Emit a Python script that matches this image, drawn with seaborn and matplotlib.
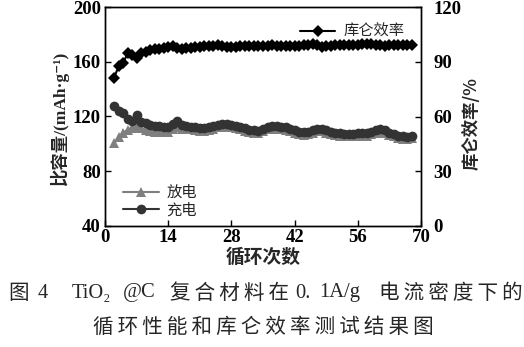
import matplotlib
matplotlib.use("Agg")
import matplotlib.pyplot as plt
import seaborn as sns
import pandas as pd
from matplotlib.lines import Line2D

cycles = list(range(2, 69))
charge = [127.4, 124.0, 122.3, 118.0, 116.7, 120.8, 116.3, 115.0, 113.8, 113.1,
          113.0, 112.4, 112.6, 114.8, 117.0, 113.8, 112.9, 112.6, 112.0, 111.4,
          111.4, 112.0, 112.9, 113.8, 114.3, 114.6, 113.8, 113.0, 112.4, 111.4,
          110.5, 110.0, 109.7, 111.0, 112.4, 112.9, 113.1, 112.6, 112.0, 111.0,
          110.0, 109.0, 108.5, 109.0, 110.0, 111.0, 111.2, 110.0, 108.8, 108.0,
          107.6, 107.1, 107.1, 107.3, 107.6, 107.6, 107.6, 108.8, 110.0, 110.7,
          110.0, 108.3, 107.1, 106.1, 105.4, 104.9, 105.9]
discharge = [100.3, 104.7, 108.3, 110.2, 111.9, 112.4, 111.4, 110.2, 109.5, 109.0,
             108.8, 108.8, 109.0, 110.7, 112.4, 110.7, 111.2, 110.9, 110.3, 109.7,
             109.7, 110.3, 111.2, 112.1, 112.6, 112.9, 112.1, 111.3, 110.7, 109.7,
             108.8, 108.3, 108.0, 109.3, 110.7, 111.2, 111.4, 110.9, 110.3, 109.3,
             108.3, 107.3, 106.8, 107.3, 108.3, 109.3, 109.5, 108.3, 107.1, 106.3,
             105.9, 105.4, 105.4, 105.6, 105.9, 105.9, 105.9, 107.1, 108.3, 109.0,
             108.3, 106.6, 105.4, 104.4, 103.7, 103.2, 104.2]
efficiency = [81.1, 87.4, 89.2, 94.6, 93.5, 91.9, 94.6, 95.5, 96.2, 96.8,
              97.2, 97.6, 98.2, 98.5, 97.4, 97.0, 97.6, 97.8, 98.0, 98.2,
              98.4, 98.6, 98.8, 99.0, 98.8, 98.2, 98.0, 98.2, 98.4, 98.5,
              98.6, 98.7, 98.8, 98.6, 98.8, 99.2, 98.6, 98.4, 98.6, 98.7,
              98.8, 98.9, 99.0, 99.3, 99.5, 99.0, 98.2, 98.6, 98.8, 99.0,
              99.0, 99.1, 99.2, 99.2, 99.4, 99.6, 99.8, 99.6, 99.2, 99.0,
              98.9, 99.0, 99.1, 99.2, 99.2, 99.2, 99.3]

xticks = [0, 14, 28, 42, 56, 70]
yticks_left = [40, 80, 120, 160, 200]
yticks_right = [0, 30, 60, 90, 120]

df = pd.DataFrame({"cycle": cycles, "charge": charge, "discharge": discharge,
                   "eff": efficiency})

sns.set_theme(style="white")
serif = ["Liberation Serif", "Noto Sans CJK SC", "DejaVu Sans"]
cjk = ["Noto Sans CJK SC", "DejaVu Sans"]
plt.rcParams["font.family"] = serif

W, H = 524, 347
fig = plt.figure(figsize=(5.24, 3.47), dpi=100)
ax_top, ax_bot = 7, 226
ax = fig.add_axes([105 / W, 1 - ax_bot / H, 316 / W, (ax_bot - ax_top) / H])
ax2 = ax.twinx()

c_dis = "#7f7f7f"
c_chg = "#333333"
sns.lineplot(data=df, x="cycle", y="discharge", ax=ax, color=c_dis, marker="^",
             markersize=7, markeredgewidth=0, linewidth=1.5)
sns.lineplot(data=df, x="cycle", y="charge", ax=ax, color=c_chg, marker="o",
             markersize=7, markeredgewidth=0, linewidth=1.5)
sns.lineplot(data=df, x="cycle", y="eff", ax=ax2, color="black", marker="D",
             markersize=6.3, markeredgewidth=0, linewidth=1.5)

ax.set_xlim(0, 70)
ax.set_ylim(40, 200)
ax2.set_ylim(0, 120)
ax.set_xticks(xticks)
ax.set_yticks(yticks_left)
ax2.set_yticks(yticks_right)
ax.set_xticklabels([str(v) for v in xticks])
ax.set_yticklabels([str(v) for v in yticks_left])
ax2.set_yticklabels([str(v) for v in yticks_right])

for a in (ax, ax2):
    for s in a.spines.values():
        s.set_color("black")
        s.set_linewidth(1.0)
    a.tick_params(direction="in", length=4, width=1.0, colors="black",
                  labelsize=13.5, pad=2)
    a.grid(False)
    for lab in a.get_xticklabels() + a.get_yticklabels():
        lab.set_fontweight("bold")
ax.tick_params(axis="x", top=False, bottom=True, pad=2)
ax.tick_params(axis="y", left=True, right=False, pad=3)
ax2.tick_params(axis="y", right=True, left=False, pad=9)
ax.set_xlabel("")
ax.set_ylabel("")
ax2.set_ylabel("")

fig.text(0.113, 0.658, "比容量/(mAh·g⁻¹)", rotation=90, ha="center", va="center",
         fontsize=12.5, fontweight="bold", family=serif)
fig.text(0.900, 0.644, "库仑效率/%", rotation=90, ha="center", va="center",
         fontsize=12.5, fontweight="bold", family=cjk)
fig.text(0.502, 1 - 257 / H, "循环次数", ha="center", va="center",
         fontsize=13.5, fontweight="bold", family=cjk)

h_dis = Line2D([], [], color=c_dis, marker="^", markersize=7, markeredgewidth=0, lw=1.5)
h_chg = Line2D([], [], color=c_chg, marker="o", markersize=7, markeredgewidth=0, lw=1.5)
h_eff = Line2D([], [], color="black", marker="D", markersize=6, markeredgewidth=0, lw=1.5)
leg1 = ax.legend([h_dis, h_chg], ["放电", "充电"], loc="lower left",
                 bbox_to_anchor=(0.015, -0.03), frameon=False, handlelength=2.3,
                 handletextpad=0.5, labelspacing=0.05, prop={"family": cjk, "size": 11})
leg2 = ax2.legend([h_eff], ["库仑效率"], loc="upper right",
                  bbox_to_anchor=(0.99, 0.99), frameon=False, handlelength=2.3,
                  handletextpad=0.5, prop={"family": cjk, "size": 11})

ts = "\u2009"
cap_fs = 14.8
y1 = 1 - 293 / H
segments = [(8, "图", cjk), (38, "4", serif), (72, "TiO₂", serif), (123, "@C", serif),
            (170, ts.join("复合材料在"), cjk), (295, "0.", serif), (319, "1A/g", serif),
            (379, ts.join("电流密度下的"), cjk)]
for xpx, txt, fam in segments:
    fig.text(xpx / W, y1, txt, ha="left", va="center", fontsize=cap_fs, family=fam)
line2 = ts.join("循环性能和库仑效率测试结果图")
fig.text(0.502, 1 - 327 / H, line2, ha="center", va="center", fontsize=cap_fs, family=cjk)

fig.savefig("out.png", dpi=100)
